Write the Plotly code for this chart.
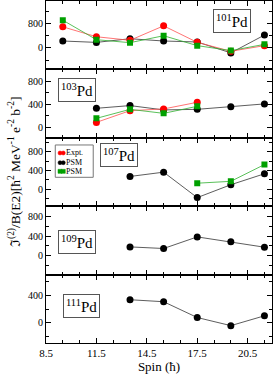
import plotly.graph_objects as go
from plotly.subplots import make_subplots

spins = [9.5, 11.5, 13.5, 15.5, 17.5, 19.5, 21.5]

# 101Pd
pd101_expt = [692, 367, 250, 725, 183, -110, 75]
pd101_psm = [227, 182, 302, 227, 195, -163, 422]
pd101_psm2 = [910, 270, 172, 400, 75, -88, 117]

# 103Pd
spins103 = [11.5, 13.5, 15.5, 17.5, 19.5, 21.5]
pd103_psm = [331, 378, 303, 313, 360, 407]
spins103e = [11.5, 13.5, 15.5, 17.5]
pd103_expt = [87, 290, 320, 435]
pd103_psm2 = [157, 313, 244, 365]

# 107Pd
spins107 = [13.5, 15.5, 17.5, 19.5, 21.5]
pd107_psm = [273, 364, -175, 98, 330]
spins107g = [17.5, 19.5, 21.5]
pd107_psm2 = [130, 170, 525]

# 109Pd
spins109 = [13.5, 15.5, 17.5, 19.5, 21.5]
pd109_psm = [178, 145, 385, 282, 172]

# 111Pd
spins111 = [13.5, 15.5, 17.5, 19.5, 21.5]
pd111_psm = [337, 308, 78, -40, 103]

labels = ["101", "103", "107", "109", "111"]
legend_names = ["Expt.", "PSM", "PSM"]
yranges = [[-705, 1540], [-180, 1005], [-357, 1092], [-395, 1020], [-293, 703]]
ydticks = [800, 400, 400, 400, 400]
yminor = [400, 200, 200, 200, 200]
box_pos = [(0.739, 0.883), (0.053, 0.874), (0.239, 0.93), (0.053, 0.652), (0.075, 0.716)]

RED = "#ff0000"
GRN = "#00a000"
BLK = "#000000"
RED_L = "#ff5050"
GRN_L = "#30b030"
BLK_L = "#333333"

fig = make_subplots(rows=5, cols=1, shared_xaxes=True, vertical_spacing=0)

def add(row, x, y, color, sym, name, linecol):
    fig.add_trace(go.Scatter(
        x=x, y=y, mode="lines+markers", name=name, showlegend=False,
        line=dict(color=linecol, width=0.8),
        marker=dict(color=color, symbol=sym, size=7 if sym == "circle" else 6),
    ), row=row, col=1)

add(1, spins, pd101_psm, BLK, "circle", "PSM", BLK_L)
add(1, spins, pd101_expt, RED, "circle", "Expt.", RED_L)
add(1, spins, pd101_psm2, GRN, "square", "PSM", GRN_L)

add(2, spins103, pd103_psm, BLK, "circle", "PSM", BLK_L)
add(2, spins103e, pd103_expt, RED, "circle", "Expt.", RED_L)
add(2, spins103e, pd103_psm2, GRN, "square", "PSM", GRN_L)

add(3, spins107, pd107_psm, BLK, "circle", "PSM", BLK_L)
add(3, spins107g, pd107_psm2, GRN, "square", "PSM", GRN_L)

add(4, spins109, pd109_psm, BLK, "circle", "PSM", BLK_L)
add(5, spins111, pd111_psm, BLK, "circle", "PSM", BLK_L)

font = "Liberation Serif"
for i in range(5):
    r = i + 1
    fig.update_yaxes(
        row=r, col=1, range=yranges[i], dtick=ydticks[i], tick0=0,
        showgrid=False, zeroline=False, showline=True, linecolor="black", linewidth=1,
        mirror="allticks", ticks="inside", ticklen=5, tickcolor="black",
        minor=dict(ticks="inside", ticklen=3, dtick=yminor[i], tick0=0, tickcolor="black"),
        tickfont=dict(family=font, size=10, color="black"),
    )
    fig.update_xaxes(
        row=r, col=1, range=[8.5, 21.95], dtick=3, tick0=8.5,
        showgrid=False, zeroline=False, showline=True, linecolor="black", linewidth=1,
        mirror="allticks", ticks="inside", ticklen=5, tickcolor="black",
        minor=dict(ticks="inside", ticklen=3, dtick=1, tick0=8.5, tickcolor="black"),
        tickfont=dict(family=font, size=11, color="black"),
    )
    xa = "x domain" if r == 1 else f"x{r} domain"
    ya = "y domain" if r == 1 else f"y{r} domain"
    bx, by = box_pos[i]
    fig.add_annotation(
        xref=xa, yref=ya, x=bx, y=by, xanchor="left", yanchor="top",
        text=f"<sup>{labels[i]}</sup>Pd", showarrow=False,
        font=dict(family=font, size=15, color="black"),
        bordercolor="#555555", borderwidth=1, borderpad=2, bgcolor="white",
    )

fig.update_xaxes(row=5, col=1, title=dict(text="Spin (ħ)", font=dict(family=font, size=13, color="black"), standoff=2))

fig.add_annotation(
    xref="paper", yref="paper", x=0, y=0.5, xshift=-32, xanchor="center", yanchor="middle",
    text="ℑ<sup>(2)</sup>/B(E2)[ħ<sup>2</sup> MeV<sup>-1</sup> e<sup>-2</sup> b<sup>-2</sup>]",
    textangle=-90, showarrow=False, font=dict(family=font, size=13.5, color="black"),
)

# legend box (manual, xmgrace style) inside the 107Pd panel
fig.add_shape(type="rect", xref="paper", yref="paper", x0=0.041, x1=0.209, y0=0.4845, y1=0.579,
              line=dict(color="#777777", width=1), fillcolor="white", layer="above")
leg_y = [0.5556, 0.5272, 0.502]
leg_col = [RED, BLK, GRN]
leg_sym = ["circle", "circle", "rect"]
for k in range(3):
    for mx in (0.062, 0.0765):
        fig.add_shape(type=leg_sym[k], xref="paper", yref="paper",
                      xsizemode="pixel", ysizemode="pixel", xanchor=mx, yanchor=leg_y[k],
                      x0=-2, x1=2, y0=-2, y1=2, fillcolor=leg_col[k],
                      line=dict(color=leg_col[k], width=0.5), layer="above")
    fig.add_annotation(xref="paper", yref="paper", x=0.085, y=leg_y[k], xanchor="left", yanchor="middle",
                       text=legend_names[k], showarrow=False, borderpad=0,
                       font=dict(family=font, size=8, color="black"))

fig.update_layout(
    width=274, height=374,
    margin=dict(l=46, r=2, t=1, b=31),
    plot_bgcolor="white", paper_bgcolor="white",
    showlegend=False,
)

fig.write_html("out.html", config={"displayModeBar": False},
               post_script="document.body.style.margin='0';")
